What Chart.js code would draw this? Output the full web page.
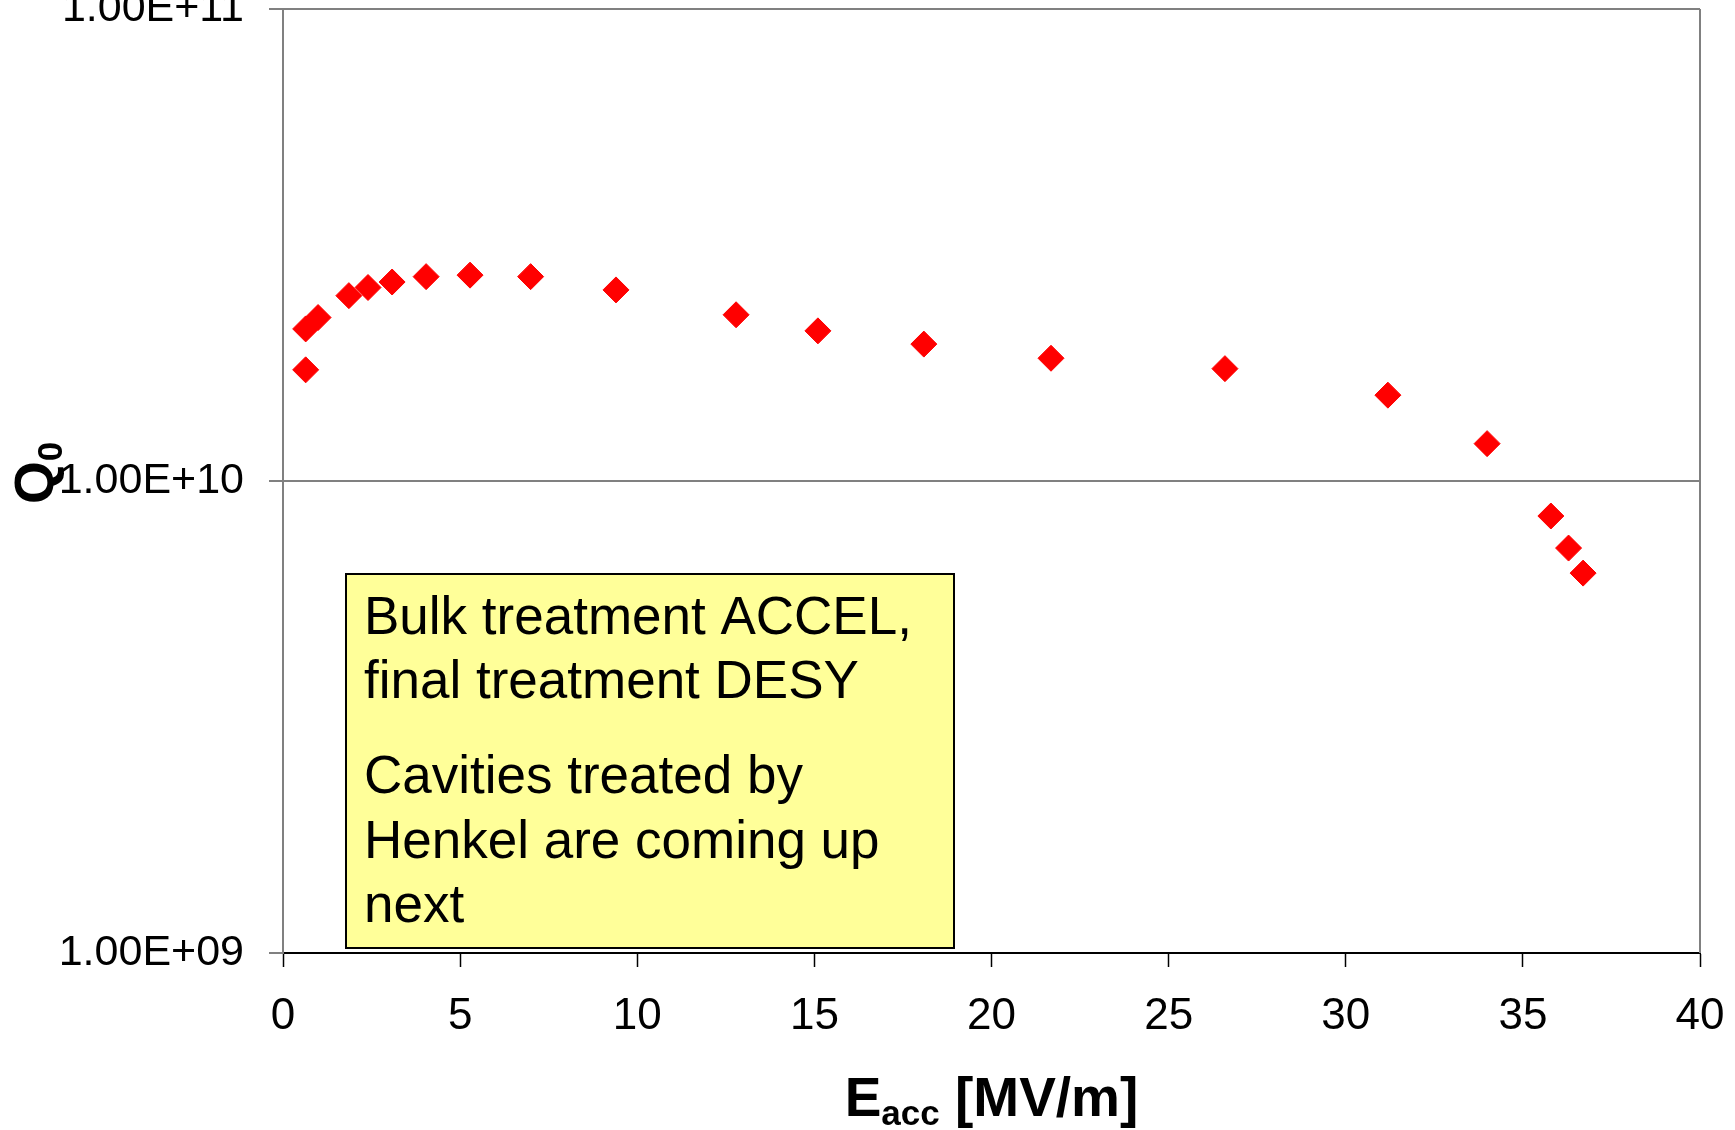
<!DOCTYPE html>
<html>
<head>
<meta charset="utf-8">
<script src="https://cdn.jsdelivr.net/npm/chart.js@4.4.1/dist/chart.umd.min.js"></script>
<style>
  html, body { margin: 0; padding: 0; background: #fff; overflow: hidden; }
  #wrap { width: 1735px; height: 1130px; position: relative; }
</style>
</head>
<body>
<div id="wrap"><canvas id="c"></canvas></div>
<script>
// ---- data ----
const eacc = [0.64, 0.64, 0.99, 1.86, 2.40, 3.08, 4.04, 5.28, 6.99, 9.40, 12.79, 15.10, 18.09, 21.68, 26.59, 31.19, 33.99, 35.79, 36.29, 36.70];
const q0 = [1.72e10, 2.10e10, 2.22e10, 2.47e10, 2.57e10, 2.64e10, 2.71e10, 2.73e10, 2.71e10, 2.54e10, 2.25e10, 2.08e10, 1.95e10, 1.82e10, 1.73e10, 1.52e10, 1.20e10, 8.43e9, 7.21e9, 6.38e9];
const yTickValues = [1e9, 1e10, 1e11];
const yTickLabels = ["1.00E+09", "1.00E+10", "1.00E+11"];
const xTickStep = 5;
const xMin = 0, xMax = 40;
const xTitleMain = "E", xTitleSub = "acc", xTitleRest = " [MV/m]";
const yTitleMain = "Q", yTitleSub = "0";
const noteParagraphs = [
  ["Bulk treatment ACCEL,", "final treatment DESY"],
  ["Cavities treated by", "Henkel are coming up", "next"]
];

const FONT = '"Liberation Sans", Arial, Helvetica, sans-serif';
const GRAY = '#808080';

const points = eacc.map((x, i) => ({ x: x, y: q0[i] }));

const decorPlugin = {
  id: 'decor',
  afterDatasetsDraw(chart) {
    const ctx = chart.ctx;
    const a = chart.chartArea;
    ctx.save();
    // right frame border
    ctx.strokeStyle = GRAY;
    ctx.lineWidth = 2;
    ctx.beginPath();
    ctx.moveTo(a.right, a.top);
    ctx.lineTo(a.right, a.bottom);
    ctx.stroke();

    // annotation box
    const bx = 346, by = 574, bw = 608, bh = 374;
    ctx.fillStyle = '#FFFF99';
    ctx.fillRect(bx, by, bw, bh);
    ctx.strokeStyle = '#000';
    ctx.lineWidth = 2;
    ctx.strokeRect(bx, by, bw, bh);
    ctx.fillStyle = '#000';
    ctx.font = '53px ' + FONT;
    ctx.textAlign = 'left';
    ctx.textBaseline = 'alphabetic';
    const baselines = [[634, 698], [793, 858, 922]];
    noteParagraphs.forEach((para, pi) => {
      para.forEach((line, li) => {
        ctx.fillText(line, 364, baselines[pi][li]);
      });
    });
    ctx.restore();
  },
  afterDraw(chart) {
    const ctx = chart.ctx;
    const a = chart.chartArea;
    ctx.save();
    ctx.fillStyle = '#000';
    ctx.textBaseline = 'alphabetic';
    ctx.textAlign = 'left';
    // x title
    const mainF = 'bold 55px ' + FONT, subF = 'bold 35px ' + FONT;
    ctx.font = mainF;
    const wE = ctx.measureText(xTitleMain).width;
    const wR = ctx.measureText(xTitleRest).width;
    ctx.font = subF;
    const wS = ctx.measureText(xTitleSub).width;
    const total = wE + wS + wR;
    let x0 = (a.left + a.right) / 2 - total / 2;
    const base = 1116;
    ctx.font = mainF; ctx.fillText(xTitleMain, x0, base);
    ctx.font = subF; ctx.fillText(xTitleSub, x0 + wE, base + 9);
    ctx.font = mainF; ctx.fillText(xTitleRest, x0 + wE + wS, base);

    // y title (rotated)
    ctx.translate(53, 473);
    ctx.rotate(-Math.PI / 2);
    ctx.font = mainF;
    const wQ = ctx.measureText(yTitleMain).width;
    ctx.font = subF;
    const w0 = ctx.measureText(yTitleSub).width;
    const t2 = wQ + w0;
    ctx.font = mainF; ctx.fillText(yTitleMain, -t2 / 2, 0);
    ctx.font = subF; ctx.fillText(yTitleSub, -t2 / 2 + wQ, 9);
    ctx.restore();
  }
};

new Chart(document.getElementById('c'), {
  type: 'scatter',
  data: {
    datasets: [{
      data: points,
      pointStyle: 'rectRot',
      pointRadius: 13,
      pointHoverRadius: 13,
      backgroundColor: '#FF0000',
      borderColor: '#FF0000',
      borderWidth: 1
    }]
  },
  plugins: [decorPlugin],
  options: {
    responsive: true,
    maintainAspectRatio: false,
    animation: false,
    events: [],
    layout: { autoPadding: false, padding: { top: 9, right: 35, left: 0, bottom: 0 } },
    plugins: { legend: { display: false }, tooltip: { enabled: false }, title: { display: false } },
    scales: {
      x: {
        type: 'linear',
        min: xMin, max: xMax,
        ticks: { stepSize: xTickStep, color: '#000', font: { family: FONT, size: 44 }, padding: 23, maxRotation: 0 },
        grid: { drawOnChartArea: false, drawTicks: true, tickLength: 14, tickColor: '#000', tickWidth: 1.5 },
        border: { display: true, color: '#000', width: 2 },
        afterFit(s) { s.height = 177; s.paddingLeft = 0; s.paddingRight = 0; s.paddingTop = 0; s.paddingBottom = 0; }
      },
      y: {
        type: 'logarithmic',
        min: 1e9, max: 1e11,
        afterBuildTicks(s) { s.ticks = yTickValues.map(v => ({ value: v })); },
        ticks: {
          color: '#000', font: { family: FONT, size: 43 }, padding: 25,
          callback(v) { const i = yTickValues.indexOf(v); return i >= 0 ? yTickLabels[i] : ''; }
        },
        grid: {
          color(c) { return (c.tick && c.tick.value === 1e9) ? 'rgba(0,0,0,0)' : GRAY; },
          lineWidth: 2, drawTicks: true, tickLength: 14, tickColor: GRAY, tickWidth: 2
        },
        border: { display: true, color: GRAY, width: 2 },
        afterFit(s) { s.width = 283; s.paddingTop = 0; s.paddingBottom = 0; s.paddingLeft = 0; s.paddingRight = 0; }
      }
    }
  }
});
</script>
</body>
</html>
